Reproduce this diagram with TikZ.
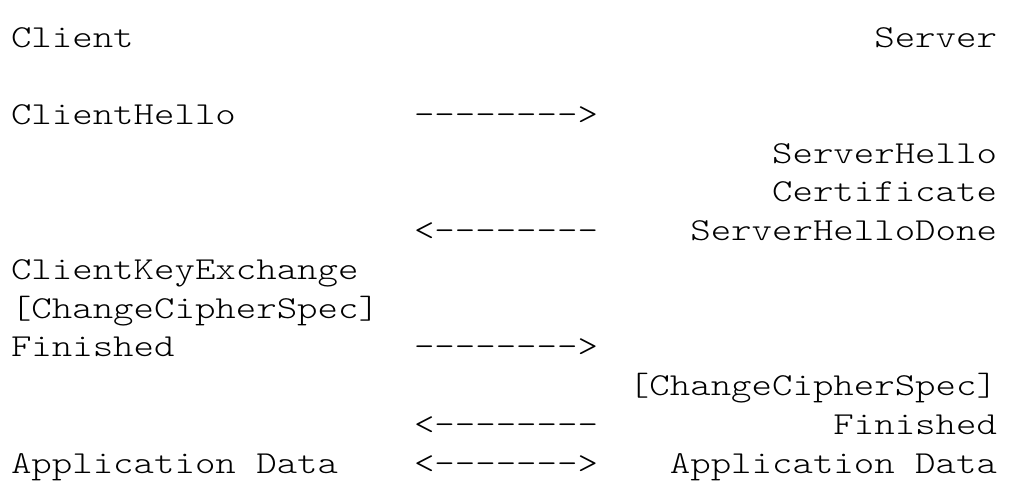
\documentclass[tikz,border=0pt]{standalone}
\usepackage{graphicx}
\newcommand\dd{-\kern0pt}
\newcommand\mono[1]{\scalebox{1.217}[1]{#1}}
\tikzset{
  txt/.style={inner sep=0pt, outer sep=0pt, font=\ttfamily\fontseries{l}\fontsize{32}{38}\selectfont},
  lft/.style={txt, anchor=base west},
  rgt/.style={txt, anchor=base east},
  arr/.style={txt, anchor=base west}
}
\begin{document}
\begin{tikzpicture}[x=1pt,y=-1pt]
\useasboundingbox[fill=white] (0,0) rectangle (1024,496);
\def\L{11}
\def\A{414}
\def\R{997}
% rows: baseline = 47 + 38.73*r
\node[lft] (client) at (\L,47) {\mono{Client}};
\node[rgt] (server) at (\R,47) {\mono{Server}};
\node[lft] (chello) at (\L,124.5) {\mono{ClientHello}};
\node[arr] (a1) at (\A,124.5) {\mono{\dd\dd\dd\dd\dd\dd\dd\dd>}};
\node[rgt] (shello) at (\R,163.2) {\mono{ServerHello}};
\node[rgt] (cert) at (\R,201.9) {\mono{Certificate}};
\node[arr] (a2) at (\A,240.7) {\mono{<\dd\dd\dd\dd\dd\dd\dd\dd}};
\node[rgt] (shdone) at (\R,240.7) {\mono{ServerHelloDone}};
\node[lft] (cke) at (\L,279.4) {\mono{ClientKeyExchange}};
\node[lft] (ccs1) at (\L,318.1) {\mono{[ChangeCipherSpec]}};
\node[lft] (fin1) at (\L,356.8) {\mono{Finished}};
\node[arr] (a3) at (\A,356.8) {\mono{\dd\dd\dd\dd\dd\dd\dd\dd>}};
\node[rgt] (ccs2) at (\R,395.6) {\mono{[ChangeCipherSpec]}};
\node[arr] (a4) at (\A,434.3) {\mono{<\dd\dd\dd\dd\dd\dd\dd\dd}};
\node[rgt] (fin2) at (\R,434.3) {\mono{Finished}};
\node[lft] (app1) at (\L,473) {\mono{Application Data}};
\node[arr] (a5) at (\A,473) {\mono{<\dd\dd\dd\dd\dd\dd\dd>}};
\node[rgt] (app2) at (\R,473) {\mono{Application Data}};
\end{tikzpicture}
\end{document}
